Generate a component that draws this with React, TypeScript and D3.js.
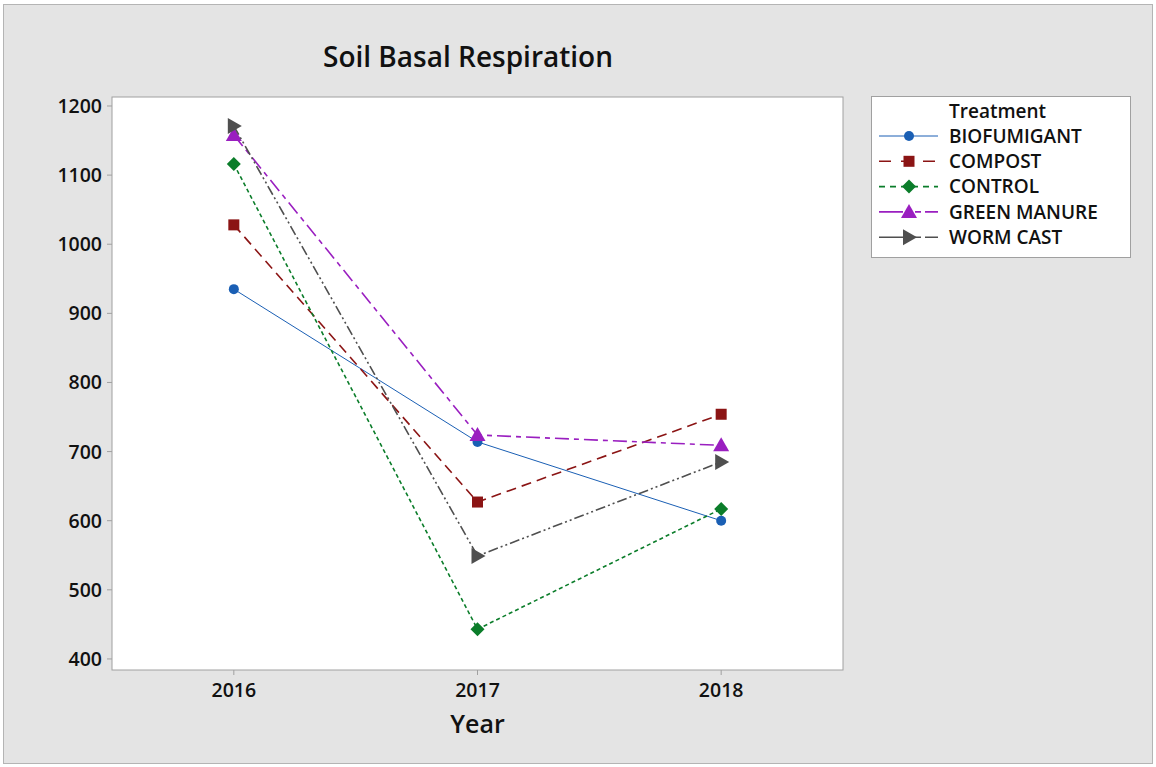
import React from "react";
import * as d3 from "d3";

const years = [2016, 2017, 2018];
const seriesNames = ["BIOFUMIGANT", "COMPOST", "CONTROL", "GREEN MANURE", "WORM CAST"];
const biofumigant = [935, 714, 600];
const compost = [1028, 627, 754];
const control = [1116, 443, 617];
const greenManure = [1158, 724, 709];
const wormCast = [1171, 549, 685];
const yTicks = [400, 500, 600, 700, 800, 900, 1000, 1100, 1200];
const title = "Soil Basal Respiration";
const xTitle = "Year";
const legendTitle = "Treatment";

const values = [biofumigant, compost, control, greenManure, wormCast];
const colors = ["#1a5fb4", "#8b1414", "#0b7d2a", "#9a1fc0", "#4f4f4f"];
const dashes = ["none", "10,6", "4,3", "14,5,5,5", "10,3,2,3,2,3"];
const legendDashes = ["none", "12,10", "6,5", "24,12,6,4", "24,12,6,4"];
const shapes = ["circle", "square", "diamond", "triUp", "triRight"];

const FONT = "'Open Sans', 'Noto Sans', sans-serif";

function Marker({ shape, x, y, color }: { shape: string; x: number; y: number; color: string }) {
  if (shape === "circle") return <circle cx={x} cy={y} r={5} fill={color} />;
  if (shape === "square") return <rect x={x - 5.5} y={y - 5.5} width={11} height={11} fill={color} />;
  if (shape === "diamond")
    return <path d={`M${x},${y - 7} L${x + 7},${y} L${x},${y + 7} L${x - 7},${y} Z`} fill={color} />;
  if (shape === "triUp")
    return <path d={`M${x},${y - 8} L${x + 8},${y + 6} L${x - 8},${y + 6} Z`} fill={color} />;
  return <path d={`M${x - 6},${y - 8} L${x + 8},${y} L${x - 6},${y + 8} Z`} fill={color} />;
}

export default function App() {
  const W = 1156, H = 767;
  const left = 112, right = 843, top = 97, bottom = 670;
  const x = d3.scaleLinear().domain([2015.5, 2018.5]).range([left, right]);
  const y = d3.scaleLinear().domain([384, 1213]).range([bottom, top]);
  const line = d3.line<number>().x((_, i) => x(years[i])).y((d) => y(d));

  const legX = 871, legY = 96, legW = 259, legH = 161;
  const rowY = (i: number) => 136 + i * 25.3;

  return (
    <svg width={W} height={H} style={{ position: "absolute", left: 0, top: 0 }} fontFamily={FONT}>
      <rect x={0} y={0} width={W} height={H} fill="#ffffff" />
      <rect x={3.5} y={4.5} width={W - 7} height={H - 8} fill="#e4e4e4" stroke="#b4b4b4" strokeWidth={1} />
      <text x={468} y={67} textAnchor="middle" fontSize={28} fontWeight="600" fill="#111">{title}</text>
      <rect x={left} y={top} width={right - left} height={bottom - top} fill="#ffffff" stroke="#a0a0a0" strokeWidth={1} />
      {yTicks.map((t) => (
        <g key={t}>
          <line x1={left - 5} x2={left} y1={y(t)} y2={y(t)} stroke="#a0a0a0" />
          <text x={left - 10} y={y(t)} dy="0.36em" textAnchor="end" fontSize={19.5} fontWeight="600" fill="#111">{t}</text>
        </g>
      ))}
      {years.map((t) => (
        <g key={t}>
          <line x1={x(t)} x2={x(t)} y1={bottom} y2={bottom + 5} stroke="#a0a0a0" />
          <text x={x(t)} y={697} textAnchor="middle" fontSize={19.5} fontWeight="600" fill="#111">{t}</text>
        </g>
      ))}
      <text x={x(2017)} y={733} textAnchor="middle" fontSize={25} fontWeight="600" fill="#111">{xTitle}</text>
      {values.map((vals, si) => (
        <g key={si}>
          <path d={line(vals) || ""} fill="none" stroke={colors[si]} strokeWidth={si === 0 ? 1 : 1.6} strokeDasharray={dashes[si]} />
          {vals.map((v, i) => (
            <Marker key={i} shape={shapes[si]} x={x(years[i])} y={y(v)} color={colors[si]} />
          ))}
        </g>
      ))}
      <rect x={legX + 0.5} y={legY + 0.5} width={legW} height={legH} fill="#ffffff" stroke="#a0a0a0" />
      <text x={949} y={118} fontSize={19} fontWeight="600" fill="#111">{legendTitle}</text>
      {seriesNames.map((n, i) => (
        <g key={n}>
          <line x1={879} x2={938} y1={rowY(i)} y2={rowY(i)} stroke={colors[i]} strokeWidth={i === 0 ? 1 : 1.6} strokeDasharray={legendDashes[i]} />
          <Marker shape={shapes[i]} x={909} y={rowY(i)} color={colors[i]} />
          <text x={949} y={rowY(i)} dy="0.36em" fontSize={19} fontWeight="600" fill="#111">{n}</text>
        </g>
      ))}
    </svg>
  );
}
